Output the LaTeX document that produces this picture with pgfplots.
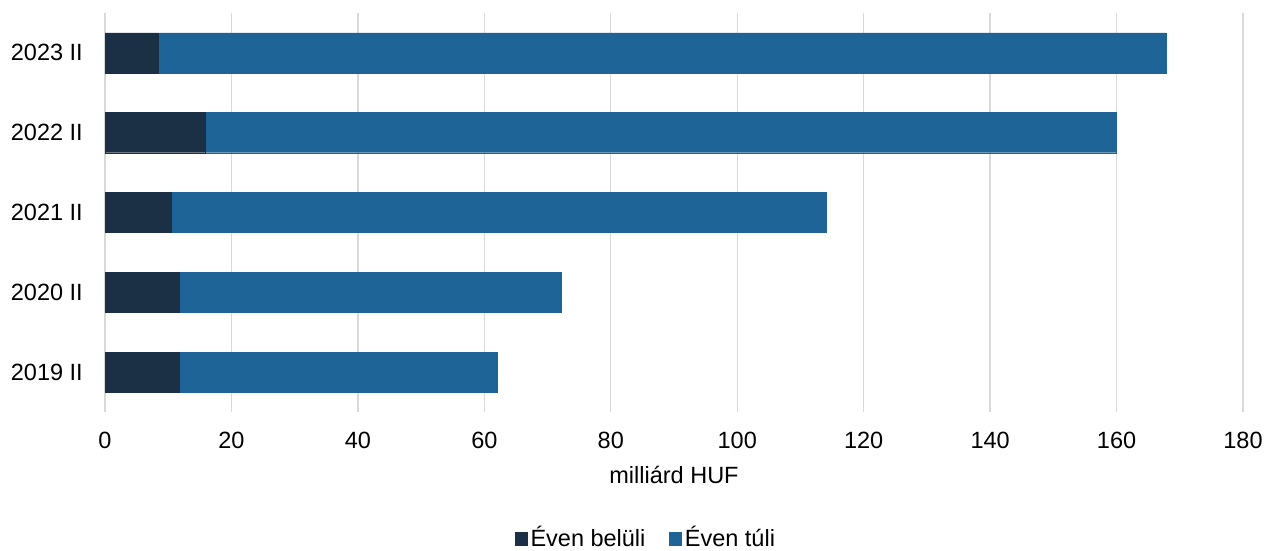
\documentclass[border=0pt]{standalone}
\usepackage{pgfplots}
\pgfplotsset{compat=1.18}
\usepackage{fontspec}
\setmainfont{Liberation Sans}
\definecolor{cdark}{HTML}{1B3045}
\definecolor{cblue}{HTML}{1F6496}
\definecolor{cgrid}{HTML}{D9D9D9}
\begin{document}
\fontsize{23.5}{28}\selectfont
\begin{tikzpicture}
\useasboundingbox (0,0) rectangle (1268pt,551pt);
\begin{axis}[
  at={(105pt,139pt)}, anchor=south west,
  scale only axis, width=1138pt, height=399pt,
  xbar stacked, bar width=40pt,
  xmin=0, xmax=180, ymin=-0.5, ymax=4.5,
  xtick={0,20,...,180},
  ytick={0,1,2,3,4},
  yticklabels={2019 II,2020 II,2021 II,2022 II,2023 II},
  axis line style={draw=none},
  major tick length=0pt,
  xmajorgrids, grid style={color=cgrid, line width=1.3pt},
  /pgf/number format/assume math mode=true,
  tick label style={font=\fontsize{23.5}{28}\selectfont},
  xticklabel style={anchor=base, yshift=-36pt},
  yticklabel style={anchor=east, inner sep=0pt, xshift=-22pt},
  xlabel={milliárd HUF},
  xlabel style={at={(axis description cs:0.5,-0.178)}, anchor=base, font=\fontsize{23.5}{28}\selectfont},
  legend columns=2,
  legend style={at={(axis description cs:0.475,-0.317)}, anchor=center, draw=none, fill=none,
    font=\fontsize{23.5}{28}\selectfont, nodes={inner sep=1.5pt},
    /tikz/every even column/.append style={column sep=22pt}},
  legend image code/.code={\fill[#1] (0pt,-7pt) rectangle (12pt,6pt); \path (14pt,0pt);},
]
\addplot[fill=cdark, draw=cdark, line width=0.4pt] coordinates {(11.75,0) (11.75,1) (10.4,2) (15.9,3) (8.4,4)};
\addplot[fill=cblue, draw=cblue, line width=0.4pt] coordinates {(50.35,0) (60.45,1) (103.7,2) (144.0,3) (159.4,4)};
\legend{Éven belüli, Éven túli}
\end{axis}
\end{tikzpicture}
\end{document}
